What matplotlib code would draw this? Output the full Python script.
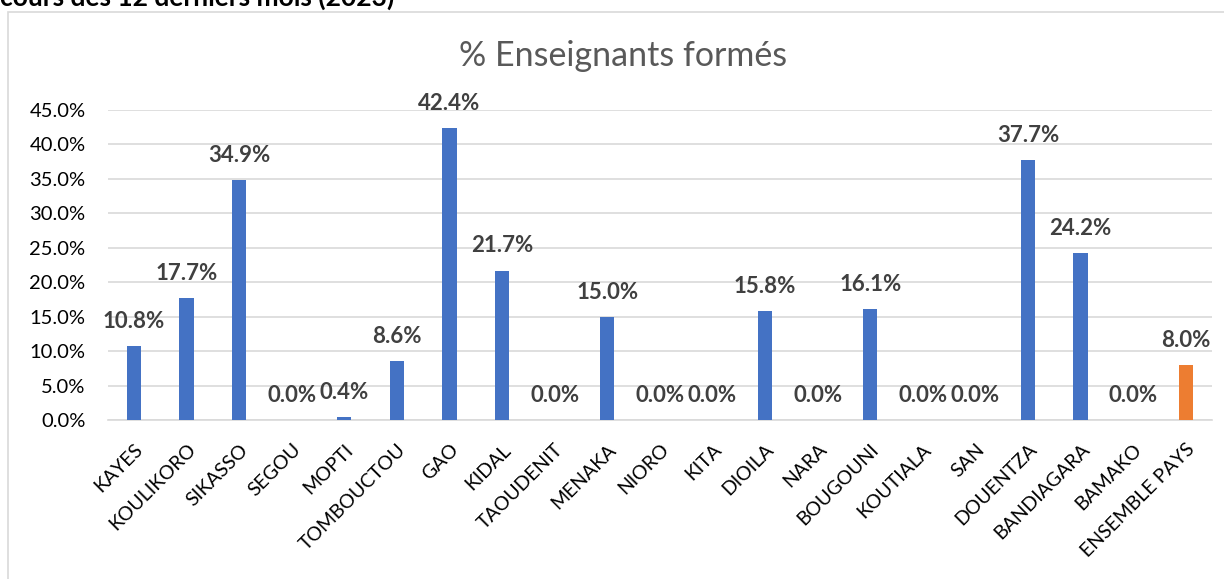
import matplotlib.pyplot as plt
from matplotlib.patches import Rectangle

# Data
regions = ["KAYES", "KOULIKORO", "SIKASSO", "SEGOU", "MOPTI", "TOMBOUCTOU", "GAO",
           "KIDAL", "TAOUDENIT", "MENAKA", "NIORO", "KITA", "DIOILA", "NARA",
           "BOUGOUNI", "KOUTIALA", "SAN", "DOUENTZA", "BANDIAGARA", "BAMAKO",
           "ENSEMBLE PAYS"]
values = [10.8, 17.7, 34.9, 0.0, 0.4, 8.6, 42.4, 21.7, 0.0, 15.0, 0.0, 0.0,
          15.8, 0.0, 16.1, 0.0, 0.0, 37.7, 24.2, 0.0, 8.0]
yticks = [0, 5, 10, 15, 20, 25, 30, 35, 40, 45]

plt.rcParams['font.family'] = ['Lato', 'DejaVu Sans']

fig = plt.figure(figsize=(12.24, 5.79), dpi=100)

# chart frame and the caption above it (cut off at the top, as in the source)
fig.patches.append(Rectangle((8 / 1224, -0.01), 1.02, 1 - 12 / 579 + 0.01,
                             transform=fig.transFigure, fill=False,
                             edgecolor='#d9d9d9', linewidth=1.2))
fig.text(0.0, 1 - 6 / 579, "cours des 12 derniers mois (2023)", fontsize=19,
         fontweight='bold', color='black', va='baseline', ha='left')

ax = fig.add_axes([107.7 / 1224, 1 - 420 / 579, (1212 - 107.7) / 1224, 310 / 579])

colors = ['#4472c4'] * (len(regions) - 1) + ['#ed7d31']
x = range(len(regions))
ax.bar(x, values, width=0.27, color=colors, zorder=3)

for xi, v in zip(x, values):
    ax.annotate(f"{v:.1f}%", (xi, v), xytext=(0, 13), textcoords='offset points',
                ha='center', va='baseline', fontsize=16, fontweight='bold',
                color='#404040')

ax.set_xlim(-0.5, len(regions) - 0.5)
ax.set_ylim(0, 45)
ax.set_yticks(yticks)
ax.set_yticklabels([f"{t:.1f}%" for t in yticks], fontsize=14.5, color='black')
ax.set_xticks(list(x))
ax.set_xticklabels(regions, rotation=45, ha='right', rotation_mode='anchor',
                   fontsize=14, color='black')
ax.tick_params(axis='y', length=0, pad=16)
ax.tick_params(axis='x', length=0, pad=15)

ax.grid(axis='y', color='#d9d9d9', linewidth=1.2, zorder=0)
ax.set_axisbelow(True)
for s in ['top', 'right', 'left']:
    ax.spines[s].set_visible(False)
ax.spines['bottom'].set_color('#d9d9d9')
ax.spines['bottom'].set_linewidth(1.2)

fig.text(623 / 1224, 1 - 56 / 579, "% Enseignants formés", fontsize=24.5,
         color='#595959', ha='center', va='center')

fig.savefig("out.png", dpi=100)
